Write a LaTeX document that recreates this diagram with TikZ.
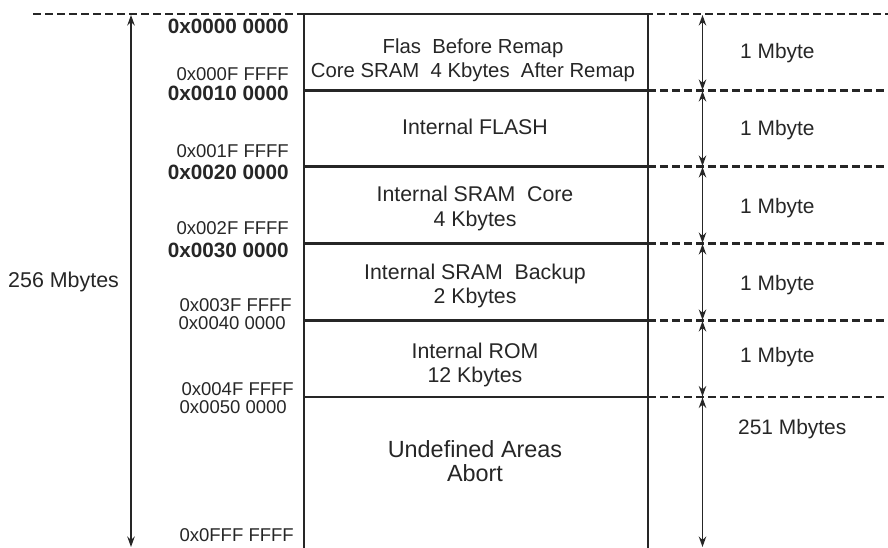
\documentclass[tikz,border=0pt]{standalone}
\usepackage{fontspec}
\setmainfont{Liberation Sans}
\usetikzlibrary{arrows.meta}
\begin{document}
\begin{tikzpicture}[x=1bp,y=-1bp,
  boxline/.style={line width=2.3bp, black!85},
  divline/.style={line width=2.3bp, black!85},
  dashline/.style={line width=2.2bp, black!85, dash pattern=on 7.5bp off 4.5bp},
  dimarrow/.style={line width=1.3bp, black!85, {Stealth[length=10.5bp,width=7.5bp]}-{Stealth[length=10.5bp,width=7.5bp]}},
  addr/.style={anchor=east, inner sep=0pt, font=\fontsize{18.6}{20}\selectfont, text=black!85},
  addrb/.style={anchor=east, inner sep=0pt, font=\fontsize{20.8}{22}\selectfont\bfseries, text=black!85},
  boxtext/.style={align=center, inner sep=0pt, font=\fontsize{21.4}{25}\selectfont, text=black!85},
  sizetext/.style={anchor=west, inner sep=0pt, font=\fontsize{21}{24}\selectfont, text=black!85}]
\useasboundingbox (0,0) rectangle (888,548);
% coordinates
\coordinate (dl0) at (33,14);
\coordinate (bl0) at (304,14); \coordinate (br0) at (648,14);
\coordinate (bl1) at (304,90.5); \coordinate (br1) at (648,90.5);
\coordinate (bl2) at (304,166.5); \coordinate (br2) at (648,166.5);
\coordinate (bl3) at (304,243.5); \coordinate (br3) at (648,243.5);
\coordinate (bl4) at (304,320.5); \coordinate (br4) at (648,320.5);
\coordinate (bl5) at (304,397); \coordinate (br5) at (648,397);
\coordinate (bl6) at (304,548); \coordinate (br6) at (648,548);
\coordinate (de0) at (888,14); \coordinate (de1) at (888,90.5);
\coordinate (de2) at (888,166.5); \coordinate (de3) at (888,243.5);
\coordinate (de4) at (888,320.5); \coordinate (de5) at (888,397);
\coordinate (la0) at (131,15); \coordinate (la1) at (131,547);
\coordinate (ra0) at (702.5,15); \coordinate (ra1) at (702.5,90); \coordinate (ra1b) at (702.5,91);
\coordinate (ra2) at (702.5,166); \coordinate (ra2b) at (702.5,167);
\coordinate (ra3) at (702.5,243); \coordinate (ra3b) at (702.5,244);
\coordinate (ra4) at (702.5,320); \coordinate (ra4b) at (702.5,321);
\coordinate (ra5) at (702.5,396.5); \coordinate (ra5b) at (702.5,397.5);
\coordinate (ra6) at (702.5,547);
% dashed lines
\draw[dashline] (dl0) -- (de0);
\draw[dashline] (br1) -- (de1);
\draw[dashline] (br2) -- (de2);
\draw[dashline] (br3) -- (de3);
\draw[dashline] (br4) -- (de4);
\draw[dashline] (br5) -- (de5);
% box
\draw[boxline] (bl6) -- (bl0) -- (br0) -- (br6);
\draw[divline] (bl1) -- (br1);
\draw[divline] (bl2) -- (br2);
\draw[divline] (bl3) -- (br3);
\draw[divline] (bl4) -- (br4);
\draw[divline] (bl5) -- (br5);
% arrows
\draw[dimarrow] (la0) -- (la1);
\draw[dimarrow] (ra0) -- (ra1);
\draw[dimarrow] (ra1b) -- (ra2);
\draw[dimarrow] (ra2b) -- (ra3);
\draw[dimarrow] (ra3b) -- (ra4);
\draw[dimarrow] (ra4b) -- (ra5);
\draw[dimarrow] (ra5b) -- (ra6);
% addresses
\node[addrb] (a0) at (289,26) {0x0000 0000};
\node[addr] (a1) at (289,74) {0x000F FFFF};
\node[addrb] (a2) at (289,93) {0x0010 0000};
\node[addr] (a3) at (289,151) {0x001F FFFF};
\node[addrb] (a4) at (289,172) {0x0020 0000};
\node[addr] (a5) at (289,228) {0x002F FFFF};
\node[addrb] (a6) at (289,250) {0x0030 0000};
\node[addr] (a7) at (292,305) {0x003F FFFF};
\node[addr] (a8) at (286,323) {0x0040 0000};
\node[addr] (a9) at (294,389) {0x004F FFFF};
\node[addr] (a10) at (287,407) {0x0050 0000};
\node[addr] (a11) at (294,535) {0x0FFF FFFF};
% box contents
\node[boxtext, font=\fontsize{20.4}{24}\selectfont] (t0) at (473,60.5) {Flas\ \ Before Remap\\Core SRAM\ \ 4 Kbytes\ \ After Remap};
\node[boxtext] (t1) at (475,127) {Internal FLASH};
\node[boxtext] (t2) at (475,208.5) {Internal SRAM\ \ Core\\4 Kbytes};
\node[boxtext] (t3) at (475,286) {Internal SRAM\ \ Backup\\2 Kbytes};
\node[boxtext] (t4) at (475,365) {Internal ROM\\12 Kbytes};
\node[boxtext, font=\fontsize{23.5}{24}\selectfont] (t5) at (475,461) {Undefined Areas\\Abort};
% sizes
\node[sizetext] (s0) at (740,53) {1 Mbyte};
\node[sizetext] (s1) at (740,130) {1 Mbyte};
\node[sizetext] (s2) at (740,208) {1 Mbyte};
\node[sizetext] (s3) at (740,285) {1 Mbyte};
\node[sizetext] (s4) at (740,357) {1 Mbyte};
\node[sizetext] (s5) at (738,429) {251 Mbytes};
\node[sizetext, font=\fontsize{21.5}{24}\selectfont] (s6) at (8,282) {256 Mbytes};
\end{tikzpicture}
\end{document}
